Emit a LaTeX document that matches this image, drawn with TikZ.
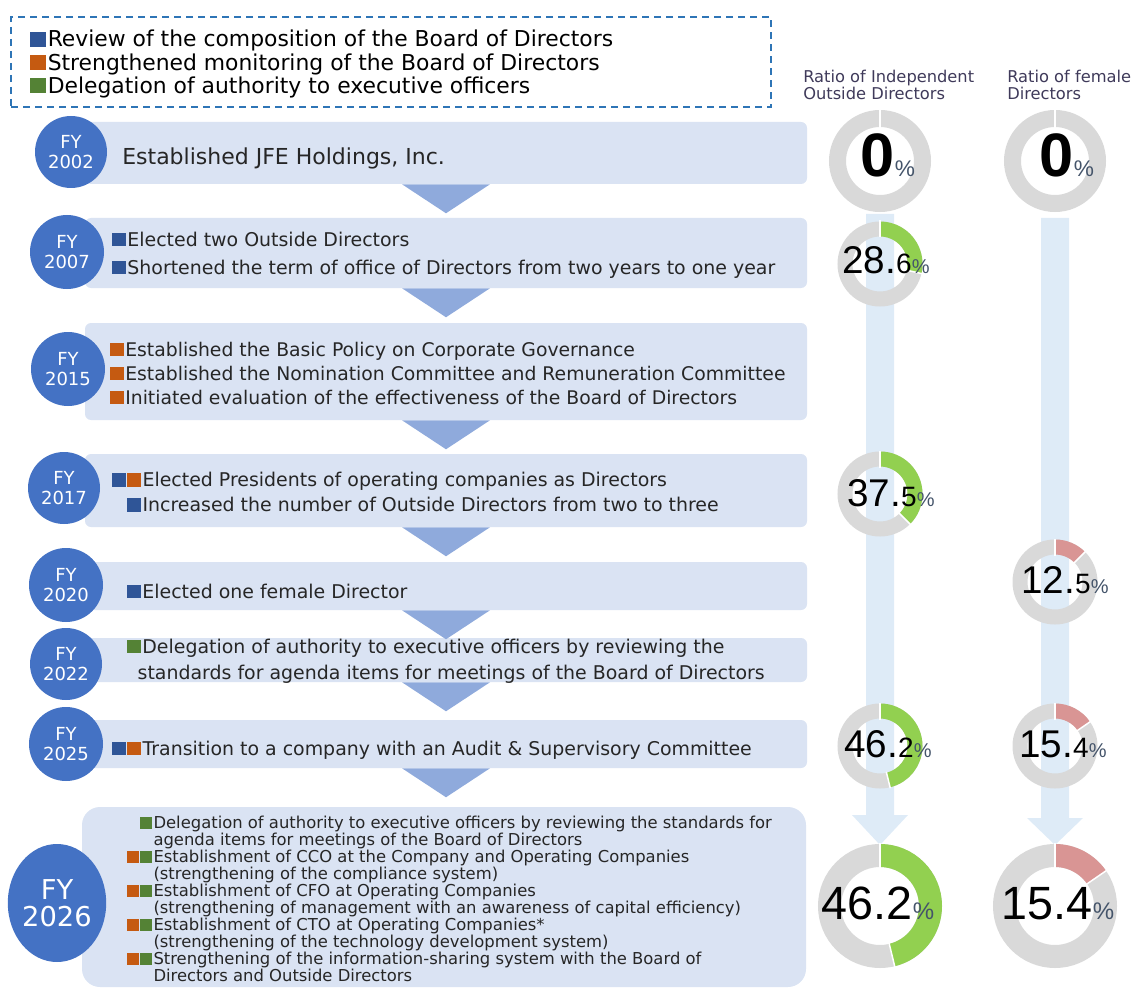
\documentclass[tikz,border=0pt]{standalone}
\usepackage{fontspec}
\setmainfont{DejaVu Sans}
\newfontfamily\numfont{Liberation Sans}
\usetikzlibrary{calc,shapes.geometric}

\newlength{\du}
\setlength{\du}{0.75\unitlength}

\newcommand{\sq}[1]{\textcolor{#1}{\rule{0.72em}{0.7em}}\hspace{0.08em}}
\newcommand{\ind}{\phantom{\sq{sqorange}\sq{sqgreen}}}
\newcommand{\pct}[1]{{\fontsize{#1}{#1}\selectfont\color{pctcol}\%}}
% donut: centre, mid radius, thickness, sweep angle, colour
\newcommand{\donut}[5]{%
\draw[draw=ringgray, line width=#3\du] (#1) circle (#2\du);
\draw[draw=#5, line width=#3\du] (#1) ++(-90:#2\du) arc (-90:{-90+#4}:#2\du);
\draw[sep] (#1) ++(-90:{(#2-0.5*#3-1)*\du}) -- ++(-90:{(#3+2)*\du});
\draw[sep] (#1) ++({-90+#4}:{(#2-0.5*#3-1)*\du}) -- ++({-90+#4}:{(#3+2)*\du});
}
\newcommand{\tri}[1]{\fill[tri] (#1.south) ++(-44\du,0\du) -- ++(88\du,0\du) -- ++(-44\du,29\du) -- cycle;}

\tikzset{
  band/.style={rectangle, rounded corners=6\du, fill=bandblue, inner sep=0pt},
  fy/.style={circle, fill=fyblue, text=white, align=center, inner sep=0pt, font=\fontsize{13.5}{15.5}\selectfont},
  txt/.style={anchor=west, align=left, inner sep=0pt, text=textdark},
  tri/.style={fill=triblue},
  bar/.style={fill=barblue},
  sep/.style={draw=white, line width=1.5\du},
  num/.style={anchor=base, inner sep=0pt, font=\numfont, text=black},
  head/.style={anchor=west, align=left, inner sep=0pt, text=headcol, font=\fontsize{12.2}{12.75}\selectfont},
  legbox/.style={draw=dashblue, dash pattern=on 7\du off 5\du, line width=2\du, inner sep=0pt}
}

\begin{document}
\begin{tikzpicture}
\pgftransformxscale{1.000000}
\pgftransformyscale{-1.000000}
\definecolor{fyblue}{HTML}{4472C4}
\definecolor{bandblue}{HTML}{DAE3F3}
\definecolor{triblue}{HTML}{8FAADC}
\definecolor{barblue}{HTML}{DEEBF7}
\definecolor{sqblue}{HTML}{2F5597}
\definecolor{sqorange}{HTML}{C55A11}
\definecolor{sqgreen}{HTML}{548235}
\definecolor{ringgray}{HTML}{D9D9D9}
\definecolor{ringgreen}{HTML}{92D050}
\definecolor{ringpink}{HTML}{D99594}
\definecolor{dashblue}{HTML}{2E75B6}
\definecolor{textdark}{HTML}{262626}
\definecolor{headcol}{HTML}{3F3A5A}
\definecolor{pctcol}{HTML}{44546A}
\useasboundingbox (0\du,0\du) rectangle (1132\du,988\du);

% legend
\node[legbox, minimum width=760\du, minimum height=90\du] (leg) at (391\du,62\du) {};
\node[txt, text=black, font=\fontsize{16.4}{17.3}\selectfont] (legtxt) at (30\du,64\du) {\sq{sqblue}Review of the composition of the Board of Directors\\
\sq{sqorange}Strengthened monitoring of the Board of Directors\\
\sq{sqgreen}Delegation of authority to executive officers};

% timeline bands
\node[band, minimum width=722\du, minimum height=62\du] (b2002) at (446\du,153\du) {};
\node[band, minimum width=722\du, minimum height=70\du] (b2007) at (446\du,253\du) {};
\node[band, minimum width=722\du, minimum height=97\du] (b2015) at (446\du,371.5\du) {};
\node[band, minimum width=722\du, minimum height=73\du] (b2017) at (446\du,490.5\du) {};
\node[band, minimum width=722\du, minimum height=48\du] (b2020) at (446\du,586\du) {};
\node[band, minimum width=722\du, minimum height=44\du] (b2022) at (446\du,660\du) {};
\node[band, minimum width=722\du, minimum height=48\du] (b2025) at (446\du,744\du) {};
\node[band, rounded corners=18\du, minimum width=724\du, minimum height=180\du] (b2026) at (444\du,897\du) {};

\tri{b2002}
\tri{b2007}
\tri{b2015}
\tri{b2017}
\tri{b2020}
\tri{b2022}
\tri{b2025}

\node[fy, minimum size=72\du] (c2002) at (71\du,152\du) {FY\\2002};
\node[fy, minimum size=74\du] (c2007) at (67\du,252\du) {FY\\2007};
\node[fy, minimum size=74\du] (c2015) at (68\du,369\du) {FY\\2015};
\node[fy, minimum size=72\du] (c2017) at (64\du,488\du) {FY\\2017};
\node[fy, minimum size=74\du] (c2020) at (66\du,585\du) {FY\\2020};
\node[fy, minimum size=72\du] (c2022) at (66\du,664\du) {FY\\2022};
\node[fy, minimum size=74\du] (c2025) at (66\du,744\du) {FY\\2025};
\node[fy, ellipse, minimum width=94\du, minimum height=118\du, font=\fontsize{20.5}{20.5}\selectfont] (c2026) at (57\du,903\du) {FY\\2026};

\node[txt, font=\fontsize{16.5}{20}\selectfont] (t2002) at (122\du,158\du) {Established JFE Holdings, Inc.};
\node[txt, font=\fontsize{14.2}{21}\selectfont] (t2007) at (112\du,255\du) {\sq{sqblue}Elected two Outside Directors\\
\sq{sqblue}Shortened the term of office of Directors from two years to one year};
\node[txt, font=\fontsize{14.1}{18}\selectfont] (t2015) at (110\du,373\du) {\sq{sqorange}Established the Basic Policy on Corporate Governance\\
\sq{sqorange}Established the Nomination Committee and Remuneration Committee\\
\sq{sqorange}Initiated evaluation of the effectiveness of the Board of Directors};
\node[txt, font=\fontsize{14.2}{18.75}\selectfont] (t2017) at (112\du,492\du) {\sq{sqblue}\sq{sqorange}Elected Presidents of operating companies as Directors\\
\phantom{\sq{sqblue}}\sq{sqblue}Increased the number of Outside Directors from two to three};
\node[txt, font=\fontsize{14.2}{18}\selectfont] (t2020) at (127\du,591\du) {\sq{sqblue}Elected one female Director};
\node[txt, font=\fontsize{14.2}{19.5}\selectfont] (t2022) at (127\du,661\du) {\sq{sqgreen}Delegation of authority to executive officers by reviewing the\\
\hspace*{0.55em}standards for agenda items for meetings of the Board of Directors};
\node[txt, font=\fontsize{14.2}{18}\selectfont] (t2025) at (112\du,750\du) {\sq{sqblue}\sq{sqorange}Transition to a company with an Audit \& Supervisory Committee};
\node[txt, font=\fontsize{12.3}{12.75}\selectfont] (t2026) at (127\du,899\du) {\phantom{\sq{sqorange}}\sq{sqgreen}Delegation of authority to executive officers by reviewing the standards for\\
\ind agenda items for meetings of the Board of Directors\\
\sq{sqorange}\sq{sqgreen}Establishment of CCO at the Company and Operating Companies\\
\ind(strengthening of the compliance system)\\
\sq{sqorange}\sq{sqgreen}Establishment of CFO at Operating Companies\\
\ind(strengthening of management with an awareness of capital efficiency)\\
\sq{sqorange}\sq{sqgreen}Establishment of CTO at Operating Companies*\\
\ind(strengthening of the technology development system)\\
\sq{sqorange}\sq{sqgreen}Strengthening of the information-sharing system with the Board of\\
\ind Directors and Outside Directors};

% ratio columns
\node[head] (h1) at (803\du,84.5\du) {Ratio of Independent\\Outside Directors};
\node[head] (h2) at (1007\du,84.5\du) {Ratio of female\\Directors};

\coordinate (d0a) at (880\du,161\du);
\coordinate (d0b) at (1055\du,161\du);
\coordinate (d286) at (880\du,264\du);
\coordinate (d375) at (880\du,494\du);
\coordinate (d125) at (1055\du,582\du);
\coordinate (d462s) at (880\du,746\du);
\coordinate (d154s) at (1055\du,746\du);
\coordinate (d462b) at (880\du,906\du);
\coordinate (d154b) at (1055\du,906\du);

\fill[bar] ($(d0a)+(-14\du,53\du)$) -- ($(d462b)+(-14\du,-91\du)$) -- ($(d462b)+(-28\du,-91\du)$) -- ($(d462b)+(0\du,-61\du)$) -- ($(d462b)+(28\du,-91\du)$) -- ($(d462b)+(14\du,-91\du)$) -- ($(d0a)+(14\du,53\du)$) -- cycle;
\fill[bar] ($(d0b)+(-14\du,57\du)$) -- ($(d154b)+(-14\du,-88\du)$) -- ($(d154b)+(-28\du,-88\du)$) -- ($(d154b)+(0\du,-61\du)$) -- ($(d154b)+(28\du,-88\du)$) -- ($(d154b)+(14\du,-88\du)$) -- ($(d0b)+(14\du,57\du)$) -- cycle;

\donut{d0a}{42.5}{17}{0}{ringgray}
\donut{d0b}{42.5}{17}{0}{ringgray}
\donut{d286}{35}{15}{103}{ringgreen}
\donut{d375}{35}{15}{135}{ringgreen}
\donut{d125}{35}{15}{45}{ringpink}
\donut{d462s}{35}{15}{166.3}{ringgreen}
\donut{d154s}{35}{15}{55.4}{ringpink}
\donut{d462b}{50.5}{23}{166.3}{ringgreen}
\donut{d154b}{50.5}{23}{55.4}{ringpink}

\node[num] (n0a) at (888\du,177\du) {{\fontsize{46}{46}\selectfont\bfseries 0}\pct{17}};
\node[num] (n0b) at (1067\du,177\du) {{\fontsize{46}{46}\selectfont\bfseries 0}\pct{17}};
\node[num] (n286) at (886\du,273\du) {{\fontsize{29}{29}\selectfont 28.}{\fontsize{21}{21}\selectfont 6}\pct{15}};
\node[num] (n375) at (891\du,506\du) {{\fontsize{29}{29}\selectfont 37.}{\fontsize{21}{21}\selectfont 5}\pct{15}};
\node[num] (n125) at (1065\du,593\du) {{\fontsize{29}{29}\selectfont 12.}{\fontsize{21}{21}\selectfont 5}\pct{15}};
\node[num] (n462s) at (888\du,757\du) {{\fontsize{29}{29}\selectfont 46.}{\fontsize{21}{21}\selectfont 2}\pct{15}};
\node[num] (n154s) at (1063\du,757\du) {{\fontsize{29}{29}\selectfont 15.}{\fontsize{21}{21}\selectfont 4}\pct{15}};
\node[num] (n462b) at (878\du,919\du) {{\fontsize{35}{35}\selectfont 46.2}\pct{18}};
\node[num] (n154b) at (1058\du,919\du) {{\fontsize{35}{35}\selectfont 15.4}\pct{18}};
\end{tikzpicture}
\end{document}
